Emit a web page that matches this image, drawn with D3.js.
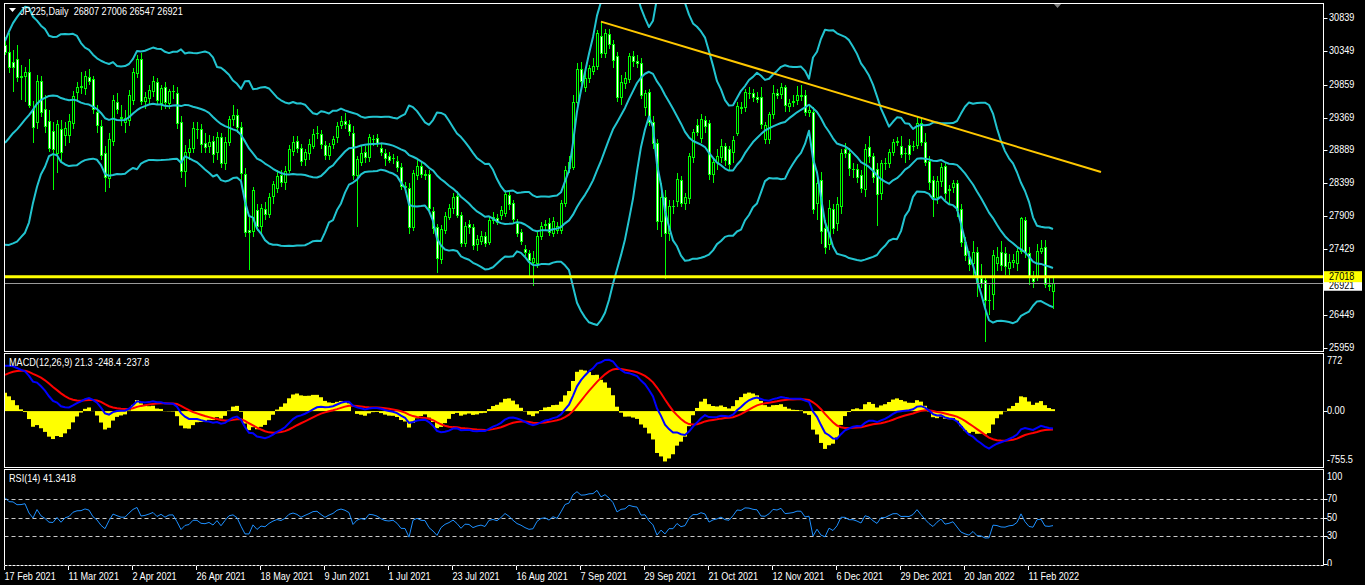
<!DOCTYPE html>
<html><head><meta charset="utf-8">
<script src="https://cdn.jsdelivr.net/npm/d3@7"></script>
<style>html,body{margin:0;padding:0;background:#000;overflow:hidden}</style>
</head><body>
<svg id="chart" width="1365" height="585"></svg>
<script>
// ---------------- DATA ----------------
const symbolTitle = "JP225,Daily";
const lastBarText = "26807 27006 26547 26921";
const macdLegendValues = ["21.3", "-248.4", "-237.8"];
const rsiLegendValue = "41.3418";
const firstDate = "2021-02-17";
const skippedDays = ["2021-12-24"];
// closes before the first visible bar (indicator history)
const priorCloses = [23295,23300,23695,24105,24325,24839,24905,25349,25520,25385,25906,26014,25728,25634,25527,25800,26165,26296,26537,26644,26433,
26787,26800,26809,26751,26547,26467,26817,26756,26652,26732,26687,26757,26806,26763,26714,26436,26524,26668,26656,26854,27568,27444,27444,
27400,27258,27158,27056,27490,28139,28100,28164,28456,28698,28519,28242,28633,28523,28756,28631,28822,28546,28635,28197,27663,
28091,28362,28646,28341,28779,29388,29505,29562,29600,29520,30084,30467];
const opens = [30444,30336,30188,30232,29986,29991,30040,29493,29310,29912,29493,29320,29172,28842,29197,29113,29113,29295,29754,29828,
29813,29976,29936,29458,29246,28842,28473,29029,29596,29380,29310,29335,29631,30035,30232,29621,29656,29764,29902,29582,
29823,29582,29760,29729,29306,28586,28857,28916,29197,29197,28990,28951,29025,28867,29079,28694,29015,29345,29409,29227,
28537,27708,27698,28000,27767,28014,27945,28216,28324,28522,28423,28596,28881,29030,28926,28753,28852,28956,29143,29123,
28965,28817,28975,29079,29261,29325,29271,29147,28522,28719,28857,28783,29060,29064,28916,28852,28803,28778,28734,28645,
28345,28334,27748,28522,28660,28530,28531,27989,27748,27274,27708,27906,28029,28211,27930,27521,27797,27748,27496,27546,
27620,27536,27856,27890,27930,27955,28226,28103,27807,27684,27422,27363,27240,27215,27620,27780,27817,27669,27708,27708,
28103,28620,28635,29606,30085,29818,29951,30060,30134,30578,30321,30607,30454,30282,29680,29887,29936,30282,30213,30180,
29533,29754,29310,28990,27846,28191,27669,28063,28142,28448,28103,28177,28793,29261,29064,29335,29286,28536,28719,28793,
28950,28900,28867,29148,29520,29522,29740,29730,29670,29670,29049,29049,29419,29739,29720,29818,29547,29600,29631,29690,
29704,29448,29458,28112,28447,27732,27500,28013,27806,28067,28901,28851,28610,28605,28521,28309,28940,28802,28605,28260,
28694,28694,28866,29014,28950,28842,28960,28945,28965,29285,29014,28733,28447,28191,28437,28654,28300,28338,28398,28013,
27535,27313,27215,27387,26993,26968,26680,26761,27215,27387,27372,27141,27240,27215,27402,27855,27363,26993,27017,27402,
27451,26900,26807];
const highs = [30560,30617,30370,30444,30149,30124,30232,29620,30000,29990,29700,29480,29300,29330,29330,29300,29420,29760,29900,30040,
30060,30090,29990,29560,29330,28950,29150,29700,29740,29560,29480,29780,30100,30300,30330,29750,29850,29980,29960,29850,
29900,29800,29850,29830,29400,28960,29050,29300,29300,29280,29150,29120,29100,29160,29150,29080,29400,29560,29500,29300,
28620,27900,28350,28100,28100,28120,28260,28430,28600,28600,28650,28960,29100,29100,28980,28900,29050,29200,29250,29180,
29020,29000,29100,29300,29400,29440,29330,29250,28800,28950,28950,29130,29110,29130,28990,28900,28860,28830,28800,28700,
28420,28400,28600,28780,28720,28600,28600,28050,27800,27780,27980,28100,28250,28280,27980,27830,27850,27800,27640,27700,
27680,27900,27970,27950,28060,28300,28290,28150,27870,27730,27480,27420,27400,27680,27820,27850,27880,27900,27820,28150,
28650,28800,29700,30180,30200,30050,30150,30250,30660,30790,30680,30680,30520,30340,30000,30050,30320,30360,30290,30250,
29780,29800,29400,29050,28400,28300,28150,28150,28550,28500,28250,28850,29200,29350,29420,29400,29340,28780,28900,29050,
29000,28950,29100,29600,29600,29800,29820,29800,29750,29830,29300,29450,29850,29800,29880,29860,29650,29700,29840,29860,
29778,29550,29520,28550,28560,27850,28150,28100,28200,28900,29000,28920,28700,28680,28600,28980,29100,28850,28700,28750,
28780,28900,29050,29080,29100,28920,29050,29020,29393,29360,29150,28800,28500,28500,28700,28720,28380,28450,28450,28100,
27600,27400,27550,27450,27200,27000,26900,27420,27450,27550,27450,27350,27350,27450,27905,27900,27450,27100,27500,27560,
27560,27000,27006];
const lows = [30290,30030,29754,29902,29631,29606,29508,28990,29200,29380,29150,28860,28300,28546,28700,28950,29000,29200,29600,29720,
29700,29850,29420,29150,28750,28275,28330,28950,29420,29250,29150,29250,29550,29950,29550,29500,29560,29680,29550,29480,
29500,29500,29650,29200,28480,28350,28750,28850,29050,28850,28850,28850,28700,28750,28620,28600,28950,29250,29150,28450,
27600,27120,27600,27700,27650,27850,27880,28100,28250,28350,28300,28550,28800,28850,28650,28650,28750,28900,29050,28900,
28750,28750,28900,29000,29200,29200,29100,28450,27758,28650,28700,28720,28950,28930,28800,28650,28700,28680,28560,28300,
28250,27650,27700,28450,28480,28450,27950,27650,27067,27200,27650,27850,27950,27880,27450,27450,27650,27420,27400,27480,
27450,27480,27800,27780,27850,27900,28000,27800,27600,27480,27330,27000,26880,27150,27560,27700,27620,27600,27650,27650,
28050,28550,28600,29500,29850,29750,29880,30000,30080,30250,30250,30380,30100,29600,29550,29800,29880,30120,30100,29650,
29400,29250,28900,27708,27600,26990,27550,27950,28050,28050,28000,28100,28700,29100,29000,29150,28450,28400,28600,28700,
28650,28600,28700,29100,29420,29450,29650,29600,29580,29200,28980,28980,29350,29650,29650,29450,29450,29520,29550,29620,
29400,29380,27950,27850,27500,27350,27420,27650,27700,27950,28780,28500,28480,28400,28250,28200,28700,28400,27772,28150,
28600,28620,28800,28950,28780,28700,28750,28880,28900,28950,28650,28300,27900,28100,28350,28150,28100,28250,27900,27450,
27250,27100,27000,26722,26850,26056,26450,26525,27100,27100,27050,27050,27150,27100,27350,27300,26900,26850,26950,27350,
26850,26800,26547];
const closes = [30346,30124,30114,29966,29976,30050,29557,29236,29912,29458,29247,28926,28901,29271,28867,29212,29320,29690,29823,29838,
29986,29917,29493,29261,28817,28497,29054,29626,29493,29370,29370,29705,30040,30232,29616,29670,29779,29912,29631,29803,
29601,29764,29770,29296,28586,28857,28916,29212,29207,28975,28941,29015,28827,29079,28694,29015,29345,29409,29227,28556,
27684,27674,28300,27767,28029,27945,28201,28384,28507,28423,28586,28901,29005,28916,28724,28857,28975,29123,29148,28975,
28817,28951,29049,29246,29325,29271,29172,28522,28753,28842,28783,29079,29054,28990,28857,28768,28744,28775,28635,28364,
28355,27748,28546,28660,28537,28520,28029,27733,27289,27718,27920,28029,28191,27930,27521,27772,27748,27486,27575,27624,
27521,27856,27906,27831,28004,28240,28093,27866,27659,27550,27388,27265,27290,27620,27767,27800,27684,27846,27767,28103,
28600,28719,29606,30085,29917,29951,30100,30134,30617,30321,30617,30454,30223,29670,29902,29951,30282,30213,30180,29705,
29730,29310,28990,27846,28191,27669,28063,28060,28458,28103,28191,28803,29162,29162,29345,29246,28536,28719,28803,28950,
28744,28690,29039,29542,29517,29754,29739,29670,29641,29276,29261,29419,29739,29705,29828,29557,29582,29620,29705,29700,
29448,29482,28013,28398,27698,27451,28028,27742,28092,28851,28841,28620,28615,28496,28324,28901,28802,28487,28240,28694,
28700,28866,29014,29020,28832,28842,28832,28955,29285,29014,28718,28422,28191,28437,28635,28260,28309,28398,28003,27535,
27338,27205,27387,26944,26919,26672,26680,27338,27303,27190,27175,27240,27265,27402,27880,27387,27017,26954,27402,27436,
26909,26880,26921];
const dateTickLabels = ["17 Feb 2021","11 Mar 2021","2 Apr 2021","26 Apr 2021","18 May 2021","9 Jun 2021","1 Jul 2021","23 Jul 2021","16 Aug 2021","7 Sep 2021","29 Sep 2021","21 Oct 2021","12 Nov 2021","6 Dec 2021","29 Dec 2021","20 Jan 2022","11 Feb 2022"];
const priceTickValues = [30839,30349,29859,29369,28889,28399,27909,27429,26939,26449,25959];
const macdTickValues = [772, 0, -755.5];
const macdTickText = ["772","0.00","-755.5"];
const rsiTickValues = [100,70,50,30,0];
const rsiLevels = [70,50,30];
const horizontalLevel = 27018;
const bidPrice = 26921;
const trendPoints = [{bar:149, value:30790},{bar:274, value:28566}];
const bbPeriod = 20, bbDev = 2;
const macdFast = 12, macdSlow = 26, macdSignal = 9;
const rsiPeriod = 14;

// ---------------- DATES ----------------
const months = ["Jan","Feb","Mar","Apr","May","Jun","Jul","Aug","Sep","Oct","Nov","Dec"];
const dates = [];
{
  let d = new Date(firstDate + "T00:00:00Z");
  while (dates.length < closes.length) {
    const wd = d.getUTCDay();
    const iso = d.toISOString().slice(0,10);
    if (wd !== 0 && wd !== 6 && !skippedDays.includes(iso)) dates.push(new Date(d));
    d = new Date(d.getTime() + 86400000);
  }
}
const fmtDate = d => d.getUTCDate() + " " + months[d.getUTCMonth()] + " " + d.getUTCFullYear();

// ---------------- INDICATORS ----------------
const all = priorCloses.concat(closes);
const off = priorCloses.length;
const n = closes.length;
const bbU = [], bbM = [], bbL = [];
for (let i = 0; i < n; i++) {
  const k = off + i;
  const win = all.slice(k - bbPeriod + 1, k + 1);
  const m = d3.mean(win);
  const sd = Math.sqrt(d3.mean(win, v => (v - m) * (v - m)));
  bbM.push(m); bbU.push(m + bbDev * sd); bbL.push(m - bbDev * sd);
}
function ema(arr, p) { const a = 2/(p+1); const out = [arr[0]]; for (let i=1;i<arr.length;i++) out.push(out[i-1] + a*(arr[i]-out[i-1])); return out; }
const eF = ema(all, macdFast), eS = ema(all, macdSlow);
const macdAll = all.map((v,i) => eF[i] - eS[i]);
const sigAll = ema(macdAll, macdSignal);
const macdMain = [], macdSig = [], macdHist = [];
for (let i = 0; i < n; i++) { const k = off + i; macdMain.push(macdAll[k]); macdSig.push(sigAll[k]); macdHist.push(2*(macdAll[k]-sigAll[k])); }
const rsiAll = new Array(all.length).fill(null);
{
  let g = 0, l = 0;
  for (let i = 1; i <= rsiPeriod; i++) { const ch = all[i]-all[i-1]; if (ch>0) g+=ch; else l-=ch; }
  g/=rsiPeriod; l/=rsiPeriod;
  rsiAll[rsiPeriod] = l===0?100:100-100/(1+g/l);
  for (let i = rsiPeriod+1; i < all.length; i++) {
    const ch = all[i]-all[i-1];
    g = (g*(rsiPeriod-1) + (ch>0?ch:0))/rsiPeriod;
    l = (l*(rsiPeriod-1) + (ch<0?-ch:0))/rsiPeriod;
    rsiAll[i] = l===0?100:100-100/(1+g/l);
  }
}
const rsi = rsiAll.slice(off);

// ---------------- LAYOUT ----------------
const svg = d3.select("#chart");
const font = "'Liberation Sans',Arial,sans-serif";
const FS = 11, SX = 0.83;
const L = 4.5, R = 1323.5;
const main = {top:3.5, bottom:351.5};
const mp = {top:353.5, bottom:467.5};
const rp = {top:469.5, bottom:565.5};
const x = d3.scaleLinear().domain([0, n-1]).range([5, 5 + 4*(n-1)]);
const y = d3.scaleLinear().domain([25959, 30839]).range([348.3, 18.3]);
const ym = d3.scaleLinear().domain([-755.5, 772]).range([466.5, 354.5]);
const yr = d3.scaleLinear().domain([0, 100]).range([563.5, 471.8]);

// condensed text helper (Tahoma-like narrow look)
function label(parent, tx, ty, str, color, baseline) {
  const t = parent.append("text")
    .attr("transform", `translate(${tx},${ty}) scale(${SX},1)`)
    .attr("x", 0).attr("y", 0)
    .attr("fill", color || "#FFFFFF")
    .attr("font-family", font).attr("font-size", FS)
    .style("white-space", "pre")
    .text(str);
  if (baseline) t.attr("dominant-baseline", baseline);
  return t;
}

svg.append("rect").attr("width",1365).attr("height",585).attr("fill","#000");
const defs = svg.append("defs");
defs.append("clipPath").attr("id","cMain").append("rect").attr("x",L).attr("y",main.top).attr("width",R-L).attr("height",main.bottom-main.top);
defs.append("clipPath").attr("id","cMacd").append("rect").attr("x",L).attr("y",mp.top).attr("width",R-L).attr("height",mp.bottom-mp.top);
defs.append("clipPath").attr("id","cRsi").append("rect").attr("x",L).attr("y",rp.top).attr("width",R-L).attr("height",rp.bottom-rp.top);
defs.append("clipPath").attr("id","cAxisR").append("rect").attr("x",R).attr("y",rp.top).attr("width",60).attr("height",rp.bottom-rp.top+0.5);

// ---------------- MAIN PANE ----------------
const gMain = svg.append("g").attr("clip-path","url(#cMain)");
const idx = d3.range(n);
const candles = gMain.append("g").selectAll("g").data(idx).join("g");
candles.append("rect")
  .attr("x", i => Math.round(x(i)))
  .attr("width", 1)
  .attr("y", i => Math.round(y(highs[i])))
  .attr("height", i => Math.max(1, Math.round(y(lows[i])) - Math.round(y(highs[i]))))
  .attr("fill", "#00FF00");
candles.append("rect")
  .attr("x", i => Math.round(x(i)) - 1)
  .attr("width", 3)
  .attr("y", i => Math.round(y(Math.max(opens[i], closes[i]))))
  .attr("height", i => Math.max(1, Math.round(y(Math.min(opens[i], closes[i]))) - Math.round(y(Math.max(opens[i], closes[i]))) + 1))
  .attr("fill", "#00FF00");
candles.filter(i => Math.round(y(Math.min(opens[i], closes[i]))) - Math.round(y(Math.max(opens[i], closes[i]))) >= 2)
  .append("rect")
  .attr("x", i => Math.round(x(i)))
  .attr("width", 1)
  .attr("y", i => Math.round(y(Math.max(opens[i], closes[i]))) + 1)
  .attr("height", i => Math.round(y(Math.min(opens[i], closes[i]))) - Math.round(y(Math.max(opens[i], closes[i]))) - 1)
  .attr("fill", i => closes[i] >= opens[i] ? "#000000" : "#FFFFFF");

const bandColor = "#22C4D0";
const bandLine = arr => d3.line().x((d,i) => x(i)).y(d => y(d))(arr);
[bbU, bbM, bbL].forEach(arr => gMain.append("path").attr("d", bandLine(arr)).attr("fill","none").attr("stroke",bandColor).attr("stroke-width",2).attr("stroke-linejoin","round"));

gMain.append("line").attr("x1",L).attr("x2",R).attr("y1",Math.round(y(bidPrice))+0.5).attr("y2",Math.round(y(bidPrice))+0.5).attr("stroke","#9A9A9A").attr("stroke-width",1);
gMain.append("line").attr("x1",L).attr("x2",R).attr("y1",y(horizontalLevel)).attr("y2",y(horizontalLevel)).attr("stroke","#FFFF00").attr("stroke-width",3);
gMain.append("path").attr("d", d3.line().x(d => x(d.bar)).y(d => y(d.value))(trendPoints)).attr("stroke","#FFC800").attr("stroke-width",2).attr("fill","none");

// header
svg.append("path").attr("d","M9,8 L16,8 L12.5,12 Z").attr("fill","#FFFFFF");
label(svg, 20, 15, symbolTitle + "  " + lastBarText);
svg.append("path").attr("d","M1053,3 L1062,3 L1057.5,8 Z").attr("fill","#7F7F7F");

// ---------------- MACD PANE ----------------
const gM = svg.append("g").attr("clip-path","url(#cMacd)");
gM.append("g").selectAll("rect").data(idx).join("rect")
  .attr("x", i => Math.round(x(i)) - 2)
  .attr("width", 4)
  .attr("y", i => Math.min(ym(0), ym(macdHist[i])))
  .attr("height", i => Math.abs(ym(macdHist[i]) - ym(0)))
  .attr("fill","#FFFF00");
const mLine = arr => d3.line().x((d,i) => x(i)).y(d => ym(d))(arr);
gM.append("path").attr("d", mLine(macdSig)).attr("fill","none").attr("stroke","#FF0000").attr("stroke-width",2);
gM.append("path").attr("d", mLine(macdMain)).attr("fill","none").attr("stroke","#0000FF").attr("stroke-width",2);
label(svg, 9, 366, "MACD(" + macdFast + "," + macdSlow + "," + macdSignal + ") " + macdLegendValues.join(" "));

// ---------------- RSI PANE ----------------
const gR = svg.append("g").attr("clip-path","url(#cRsi)");
rsiLevels.forEach(v => gR.append("line").attr("x1",L).attr("x2",R).attr("y1",Math.round(yr(v))+0.5).attr("y2",Math.round(yr(v))+0.5).attr("stroke","#C8C8C8").attr("stroke-dasharray","4,3"));
gR.append("path").attr("d", d3.line().x((d,i) => x(i)).y(d => yr(d))(rsi)).attr("fill","none").attr("stroke","#1E90FF").attr("stroke-width",1);
label(svg, 9, 482, "RSI(" + rsiPeriod + ") " + rsiLegendValue);

// ---------------- BORDERS ----------------
[[main.top, main.bottom],[mp.top, mp.bottom],[rp.top, rp.bottom]].forEach(([t,b]) =>
  svg.append("rect").attr("x",L).attr("y",t).attr("width",R-L).attr("height",b-t).attr("fill","none").attr("stroke","#FFFFFF").attr("stroke-width",1));
svg.append("line").attr("x1",L).attr("x2",R).attr("y1",rp.bottom).attr("y2",rp.bottom).attr("stroke","#000").attr("stroke-width",1.2);
svg.append("line").attr("x1",L).attr("x2",R).attr("y1",rp.bottom).attr("y2",rp.bottom).attr("stroke","#FFFFFF").attr("stroke-dasharray","3,1");

// ---------------- RIGHT AXES ----------------
priceTickValues.forEach(v => {
  const yy = Math.round(y(v)) + 0.5;
  svg.append("line").attr("x1",R).attr("x2",R+4).attr("y1",yy).attr("y2",yy).attr("stroke","#FFFFFF");
  label(svg, 1329, yy, String(v), "#FFFFFF", "middle");
});
// price tags (bid tag sits partly under the level tag, as in the terminal)
const tag = (v, bg, dy) => {
  const yy = y(v) + dy;
  svg.append("rect").attr("x",R+0.5).attr("y",yy-5.5).attr("width",38).attr("height",11).attr("fill",bg);
  label(svg, 1329, yy+0.5, String(v), "#000000", "middle");
};
tag(bidPrice, "#FFFFFF", 2);
tag(horizontalLevel, "#FFFF00", 0);
// macd axis
label(svg, 1327, 361, macdTickText[0], "#FFFFFF", "middle");
svg.append("line").attr("x1",R).attr("x2",R+4).attr("y1",Math.round(ym(macdTickValues[1]))+0.5).attr("y2",Math.round(ym(macdTickValues[1]))+0.5).attr("stroke","#FFFFFF");
label(svg, 1327, Math.round(ym(macdTickValues[1]))+0.5, macdTickText[1], "#FFFFFF", "middle");
label(svg, 1327, 460, macdTickText[2], "#FFFFFF", "middle");
// rsi axis
const gRA = svg.append("g").attr("clip-path","url(#cAxisR)");
rsiTickValues.forEach(v => {
  const yy = v === 100 ? 477 : Math.round(yr(v)) + 0.5;
  if (v !== 100) gRA.append("line").attr("x1",R).attr("x2",R+4).attr("y1",yy).attr("y2",yy).attr("stroke","#FFFFFF");
  label(gRA, 1327, yy, String(v), "#FFFFFF", "middle");
});

// ---------------- X AXIS ----------------
dateTickLabels.forEach(lbl => {
  const i = dates.findIndex(d => fmtDate(d) === lbl);
  if (i < 0) return;
  const xx = Math.round(x(i)) - 0.5;
  svg.append("line").attr("x1",xx).attr("x2",xx).attr("y1",566).attr("y2",570).attr("stroke","#FFFFFF");
  label(svg, xx, 580, lbl);
});
</script>
</body></html>
